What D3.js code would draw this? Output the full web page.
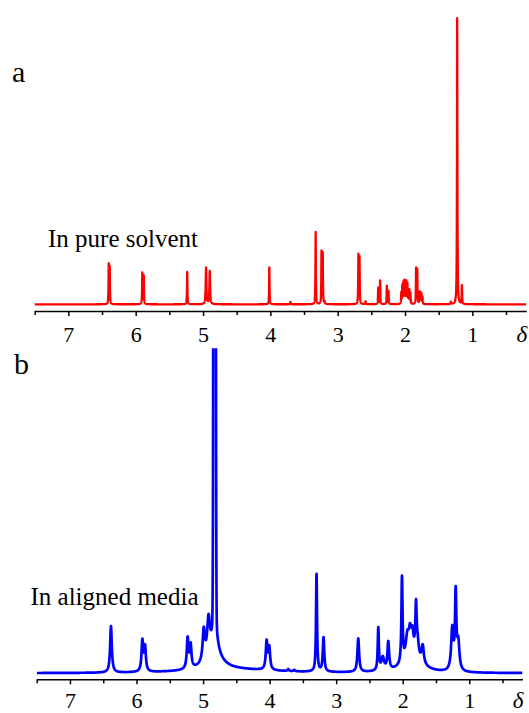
<!DOCTYPE html>
<html>
<head>
<meta charset="utf-8">
<script src="https://cdn.jsdelivr.net/npm/d3@7"></script>
<style>
  html, body { margin: 0; padding: 0; background: #fff; }
  svg { display: block; }
</style>
</head>
<body>
<svg id="chart" width="529" height="713"></svg>
<script>
const serif = "'Liberation Serif', 'Times New Roman', Times, 'DejaVu Serif', serif";

// Chemical-shift axis (ppm), drawn high to low
const shiftDomain = [7.5, 0.2];
const majorTicks = [7, 6, 5, 4, 3, 2, 1];
const minorTicks = [7.5, 6.5, 5.5, 4.5, 3.5, 2.5, 1.5, 0.5];

// Spectrum a: lines in pure solvent (shift ppm, height, half-width ppm)
const shiftA  = [6.400, 6.386, 5.902, 5.880, 5.235, 4.955, 4.900, 4.015, 3.700,
                 3.327, 3.240, 3.222, 3.195, 2.692, 2.676, 2.585, 2.398, 2.370,
                 2.270, 2.245, 2.055, 2.040, 2.025, 2.010, 1.995, 1.980, 1.965,
                 1.950, 1.935, 1.920, 1.835, 1.818, 1.785, 1.770, 1.755, 1.740,
                 1.320, 1.225, 1.155];
const heightA = [13.5, 12.5, 10.8, 9.8, 11.2, 12.6, 11.4, 12.8, 0.8,
                 25.0, 18.0, 17.3, 0.9, 16.8, 16.0, 1.0, 5.6, 8.2,
                 6.3, 4.6, 3.8, 6.2, 7.0, 7.6, 6.0, 7.4, 6.6,
                 4.3, 4.6, 3.6, 12.2, 11.6, 4.0, 3.8, 3.4, 2.4,
                 0.8, 99.0, 6.4];
const widthA  = [0.0035, 0.0035, 0.0035, 0.0035, 0.0035, 0.006, 0.006, 0.0035, 0.004,
                 0.0035, 0.0035, 0.0035, 0.004, 0.0035, 0.0035, 0.004, 0.0035, 0.0035,
                 0.0035, 0.0035, 0.0035, 0.0035, 0.0035, 0.0035, 0.0035, 0.0035, 0.0035,
                 0.0035, 0.0035, 0.0035, 0.0035, 0.0035, 0.0035, 0.0035, 0.0035, 0.0035,
                 0.004, 0.0035, 0.0035];

// Spectrum b: lines in aligned media (shift ppm, height, half-width ppm)
const shiftB  = [6.384, 5.912, 5.872, 5.232, 5.187, 4.990, 4.918, 4.827, 4.827,
                 4.045, 4.005, 3.720, 3.630, 3.295, 3.190, 2.668, 2.367,
                 2.300, 2.217, 2.011, 1.930, 1.890, 1.855, 1.800, 1.775,
                 1.700, 1.850, 1.255, 1.204, 1.165, 4.500];
const heightB = [14.3, 9.4, 7.4, 9.3, 7.0, 9.6, 11.5, 14.0, 4.0,
                 8.6, 6.6, 0.6, 0.4, 30.0, 10.5, 10.3, 13.0,
                 4.0, 8.5, 26.3, 7.0, 6.0, 6.0, 15.0, 4.0,
                 5.5, 5.0, 12.8, 23.0, 8.5, 1.0];
const widthB  = [0.015, 0.015, 0.015, 0.015, 0.015, 0.020, 0.025, 0.040, 0.150,
                 0.015, 0.015, 0.012, 0.012, 0.009, 0.013, 0.015, 0.010,
                 0.025, 0.015, 0.010, 0.030, 0.020, 0.020, 0.012, 0.020,
                 0.020, 0.150, 0.020, 0.012, 0.020, 0.800];

// Residual water line in b (Gaussian core, far above the frame)
const waterShiftB = [4.827];
const waterHeightB = [1000];
const waterSigmaB = [0.0095];

const svg = d3.select("#chart");

function spectrum(shifts, heights, widths, gShifts, gHeights, gSigmas) {
  const grid = d3.range(shiftDomain[0], shiftDomain[1] - 1e-9, -0.001)
    .concat(shifts, gShifts || [])
    .sort((p, q) => q - p);
  return grid.map(x => {
    let y = 0;
    shifts.forEach((c, i) => {
      const g = widths[i];
      y += heights[i] * g * g / ((x - c) * (x - c) + g * g);
    });
    (gShifts || []).forEach((c, i) => {
      const s = gSigmas[i];
      y += gHeights[i] * Math.exp(-((x - c) * (x - c)) / (2 * s * s));
    });
    return [x, y];
  });
}

function panel(cfg) {
  const x = d3.scaleLinear().domain(shiftDomain).range(cfg.xRange);
  const y = d3.scaleLinear().domain([0, 100]).range([cfg.base, cfg.top]);
  const g = svg.append("g");

  const clipId = "clip-" + cfg.letter;
  g.append("clipPath").attr("id", clipId)
    .append("rect")
    .attr("x", cfg.xRange[0]).attr("y", cfg.top - (cfg.clipPad || 0))
    .attr("width", cfg.xRange[1] - cfg.xRange[0])
    .attr("height", cfg.axisY - cfg.top + (cfg.clipPad || 0));

  g.append("path")
    .datum(cfg.data)
    .attr("clip-path", `url(#${clipId})`)
    .attr("fill", "none")
    .attr("stroke", cfg.color)
    .attr("stroke-width", cfg.lineWidth)
    .attr("stroke-linejoin", "round")
    .attr("d", d3.line().x(d => x(d[0])).y(d => y(d[1])));

  // minor ticks
  g.append("g")
    .attr("transform", `translate(0,${cfg.axisY})`)
    .call(d3.axisBottom(x).tickValues(minorTicks).tickSize(4).tickSizeOuter(0).tickFormat(""))
    .call(a => a.select(".domain").remove())
    .call(a => a.selectAll("line").attr("stroke-width", 1.5));

  // major ticks and labels
  const ax = g.append("g")
    .attr("transform", `translate(0,${cfg.axisY})`)
    .call(d3.axisBottom(x).tickValues(majorTicks).tickSize(5).tickSizeOuter(0).tickFormat(d3.format("d")));
  ax.attr("font-family", serif);
  ax.select(".domain").attr("stroke-width", 1.6);
  ax.selectAll("line").attr("stroke-width", 1.5);
  ax.selectAll("text")
    .attr("y", cfg.labelDy).attr("dy", null)
    .attr("font-family", serif)
    .style("font-family", serif)
    .style("font-size", "22px")
    .attr("fill", "#000");

  g.append("text")
    .attr("x", cfg.xRange[1] + 1).attr("y", cfg.axisY + cfg.labelDy)
    .attr("text-anchor", "end")
    .style("font-family", serif)
    .style("font-size", "23px").style("font-style", "italic")
    .text("δ");

  g.append("text")
    .attr("x", cfg.letterX).attr("y", cfg.letterY)
    .style("font-family", serif)
    .style("font-size", "30px")
    .text(cfg.letter);

  g.append("text")
    .attr("x", cfg.noteX).attr("y", cfg.noteY)
    .style("font-family", serif)
    .style("font-size", "25px")
    .text(cfg.note);
}

panel({
  letter: "a", letterX: 12, letterY: 81.5,
  note: "In pure solvent", noteX: 48, noteY: 246.5,
  xRange: [34.7, 526.2], axisY: 311, base: 304.3, top: 15.3, clipPad: 10,
  labelDy: 30.5,
  color: "#ff0000", lineWidth: 2.3,
  data: spectrum(shiftA, heightA, widthA)
});

panel({
  letter: "b", letterX: 14, letterY: 374.3,
  note: "In aligned media", noteX: 30.5, noteY: 605,
  xRange: [36.7, 522.5], axisY: 679.3, base: 673.3, top: 348.3, clipPad: 0,
  labelDy: 29,
  color: "#0000ff", lineWidth: 2.7,
  data: spectrum(shiftB, heightB, widthB, waterShiftB, waterHeightB, waterSigmaB)
});
</script>
</body>
</html>
